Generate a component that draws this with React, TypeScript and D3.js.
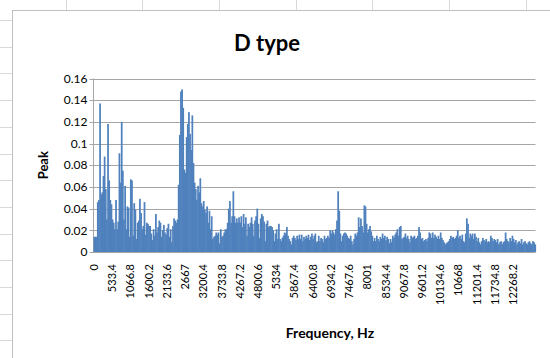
import React from 'react';
import * as d3 from 'd3';

// Spectrum bin width (Hz) and how often a category label is shown
const FREQ_STEP = 33.3375;
const LABEL_EVERY = 16;

// Peak amplitude per frequency bin, split into bands
// 0 – 2133.6 Hz
const peaksBandA = [
  0.014, 0.014, 0.014, 0.046, 0.048, 0.137, 0.053, 0.055, 0.070, 0.088,
  0.058, 0.030, 0.118, 0.066, 0.048, 0.044, 0.030, 0.027, 0.021, 0.048,
  0.021, 0.028, 0.091, 0.064, 0.120, 0.075, 0.030, 0.061, 0.021, 0.042,
  0.041, 0.014, 0.067, 0.066, 0.015, 0.045, 0.039, 0.012, 0.027, 0.029,
  0.049, 0.036, 0.021, 0.024, 0.046, 0.016, 0.027, 0.026, 0.024, 0.024,
  0.017, 0.011, 0.021, 0.015, 0.035, 0.018, 0.023, 0.029, 0.027, 0.014,
  0.020, 0.025, 0.018, 0.016, 0.022,
];
// 2166.9 – 4300.5 Hz
const peaksBandB = [
  0.026, 0.014, 0.021, 0.009, 0.024, 0.031, 0.029, 0.027, 0.030, 0.062,
  0.108, 0.148, 0.150, 0.133, 0.076, 0.073, 0.106, 0.118, 0.129, 0.109,
  0.094, 0.126, 0.082, 0.064, 0.058, 0.048, 0.061, 0.055, 0.068, 0.045,
  0.042, 0.047, 0.039, 0.036, 0.042, 0.027, 0.038, 0.021, 0.033, 0.012,
  0.014, 0.015, 0.018, 0.016, 0.018, 0.008, 0.021, 0.014, 0.015, 0.018,
  0.021, 0.021, 0.027, 0.040, 0.047, 0.027, 0.033, 0.056, 0.033, 0.027,
  0.031, 0.027, 0.032, 0.027, 0.033,
];
// 4333.9 – 6434.1 Hz
const peaksBandC = [
  0.023, 0.035, 0.026, 0.032, 0.015, 0.026, 0.023, 0.027, 0.032, 0.026,
  0.015, 0.029, 0.033, 0.040, 0.026, 0.013, 0.031, 0.035, 0.033, 0.028,
  0.010, 0.026, 0.029, 0.023, 0.024, 0.024, 0.023, 0.020, 0.010, 0.017,
  0.021, 0.012, 0.026, 0.012, 0.010, 0.013, 0.015, 0.018, 0.017, 0.023,
  0.015, 0.012, 0.010, 0.007, 0.013, 0.015, 0.013, 0.011, 0.015, 0.012,
  0.016, 0.012, 0.016, 0.010, 0.014, 0.012, 0.015, 0.013, 0.016, 0.011,
  0.014, 0.017, 0.012, 0.015,
];
// 6467.5 – 8601.1 Hz
const peaksBandD = [
  0.017, 0.009, 0.010, 0.015, 0.010, 0.013, 0.012, 0.009, 0.015, 0.012,
  0.013, 0.015, 0.013, 0.020, 0.017, 0.020, 0.018, 0.016, 0.021, 0.029,
  0.056, 0.038, 0.017, 0.010, 0.015, 0.017, 0.018, 0.017, 0.015, 0.013,
  0.012, 0.015, 0.010, 0.007, 0.012, 0.017, 0.015, 0.018, 0.032, 0.023,
  0.031, 0.024, 0.018, 0.043, 0.042, 0.026, 0.018, 0.021, 0.024, 0.019,
  0.015, 0.010, 0.013, 0.010, 0.015, 0.012, 0.010, 0.014, 0.012, 0.017,
  0.013, 0.015, 0.011, 0.014, 0.012,
];
// 8634.4 – 10768.0 Hz
const peaksBandE = [
  0.008, 0.012, 0.009, 0.015, 0.013, 0.016, 0.018, 0.021, 0.015, 0.023,
  0.024, 0.012, 0.013, 0.014, 0.017, 0.013, 0.015, 0.012, 0.009, 0.015,
  0.013, 0.014, 0.015, 0.012, 0.013, 0.015, 0.023, 0.018, 0.012, 0.013,
  0.010, 0.011, 0.012, 0.010, 0.013, 0.018, 0.017, 0.013, 0.018, 0.013,
  0.016, 0.014, 0.012, 0.015, 0.012, 0.018, 0.013, 0.011, 0.009, 0.007,
  0.008, 0.009, 0.010, 0.012, 0.015, 0.013, 0.014, 0.012, 0.013, 0.015,
  0.020, 0.013, 0.015, 0.012, 0.016,
];
// 10801.3 – 12901.6 Hz
const peaksBandF = [
  0.010, 0.009, 0.017, 0.031, 0.026, 0.013, 0.017, 0.015, 0.017, 0.012,
  0.017, 0.014, 0.010, 0.013, 0.009, 0.007, 0.010, 0.013, 0.011, 0.010,
  0.012, 0.009, 0.010, 0.009, 0.015, 0.013, 0.010, 0.012, 0.011, 0.009,
  0.012, 0.007, 0.009, 0.010, 0.007, 0.009, 0.010, 0.018, 0.012, 0.010,
  0.009, 0.013, 0.010, 0.015, 0.012, 0.009, 0.011, 0.007, 0.009, 0.010,
  0.008, 0.012, 0.007, 0.009, 0.010, 0.008, 0.007, 0.009, 0.010, 0.008,
  0.007, 0.010, 0.009, 0.007,
];

const peaks = [
  ...peaksBandA, ...peaksBandB, ...peaksBandC,
  ...peaksBandD, ...peaksBandE, ...peaksBandF,
];
const frequencies = peaks.map((_, i) => i * FREQ_STEP);

const tickLabels = [
  '0', '533.4', '1066.8', '1600.2', '2133.6', '2667', '3200.4', '3733.8',
  '4267.2', '4800.6', '5334', '5867.4', '6400.8', '6934.2', '7467.6', '8001',
  '8534.4', '9067.8', '9601.2', '10134.6', '10668', '11201.4', '11734.8', '12268.2',
];
const yTicks = [0, 0.02, 0.04, 0.06, 0.08, 0.1, 0.12, 0.14, 0.16];

const W = 550;
const H = 358;
const plot = { left: 93.5, right: 535.5, top: 78.5, bottom: 252 };
const FONT = "Lato, 'Open Sans', sans-serif";

export default function App() {
  const x = d3
    .scaleBand<number>()
    .domain(frequencies)
    .range([plot.left, plot.right])
    .paddingInner(0)
    .paddingOuter(0);
  const y = d3.scaleLinear().domain([0, 0.16]).range([plot.bottom, plot.top]);
  const fmt = d3.format('');

  // worksheet cell borders peeking around the chart frame
  const colLines = d3.range(7).map((i) => 65.5 + i * 76.7);
  const rowLines = d3.range(13).map((i) => 20 + i * 26.7);

  return (
    <svg
      width={W}
      height={H}
      style={{ position: 'absolute', left: 0, top: 0, background: '#fff' }}
      fontFamily={FONT}
    >
      <rect width={W} height={H} fill="#fff" />
      {colLines.map((cx) => (
        <line key={`c${cx}`} x1={Math.round(cx) + 0.5} x2={Math.round(cx) + 0.5} y1={0} y2={10} stroke="#d9d9d9" />
      ))}
      {rowLines.map((ry) => (
        <line key={`r${ry}`} x1={0} x2={12} y1={Math.round(ry) + 0.5} y2={Math.round(ry) + 0.5} stroke="#d9d9d9" />
      ))}
      <rect x={12.5} y={10.5} width={W} height={H} fill="#fff" stroke="#bfbfbf" />

      <text x={267} y={51} textAnchor="middle" fontSize={22} fontWeight="bold" fill="#000">
        D type
      </text>

      {yTicks.map((t) => (
        <g key={t}>
          <line
            x1={plot.left - 4}
            x2={plot.right}
            y1={Math.round(y(t)) + 0.5}
            y2={Math.round(y(t)) + 0.5}
            stroke="#a6a6a6"
          />
          <text x={plot.left - 6} y={y(t)} dy="0.35em" textAnchor="end" fontSize={12} fill="#000">
            {fmt(t)}
          </text>
        </g>
      ))}
      <line x1={plot.left} x2={plot.left} y1={plot.top} y2={plot.bottom} stroke="#a6a6a6" />

      {peaks.map((v, i) => (
        <rect
          key={i}
          x={x(frequencies[i])}
          y={y(v)}
          width={x.bandwidth() + 0.6}
          height={y(0) - y(v)}
          fill="#4f81bd"
        />
      ))}

      {tickLabels.map((label, j) => {
        const cx = (x(frequencies[j * LABEL_EVERY]) as number) + x.bandwidth() / 2;
        return (
          <text
            key={label}
            transform={`translate(${cx},${plot.bottom + 12}) rotate(-90)`}
            dy="0.35em"
            textAnchor="end"
            fontSize={11}
            fill="#000"
          >
            {label}
          </text>
        );
      })}

      <text
        transform={`translate(43,${(plot.top + plot.bottom) / 2}) rotate(-90)`}
        textAnchor="middle"
        dy="0.35em"
        fontSize={13}
        fontWeight="bold"
        fill="#000"
      >
        Peak
      </text>
      <text x={330} y={338} textAnchor="middle" fontSize={14} fontWeight="bold" fill="#000">
        Frequency, Hz
      </text>
    </svg>
  );
}
